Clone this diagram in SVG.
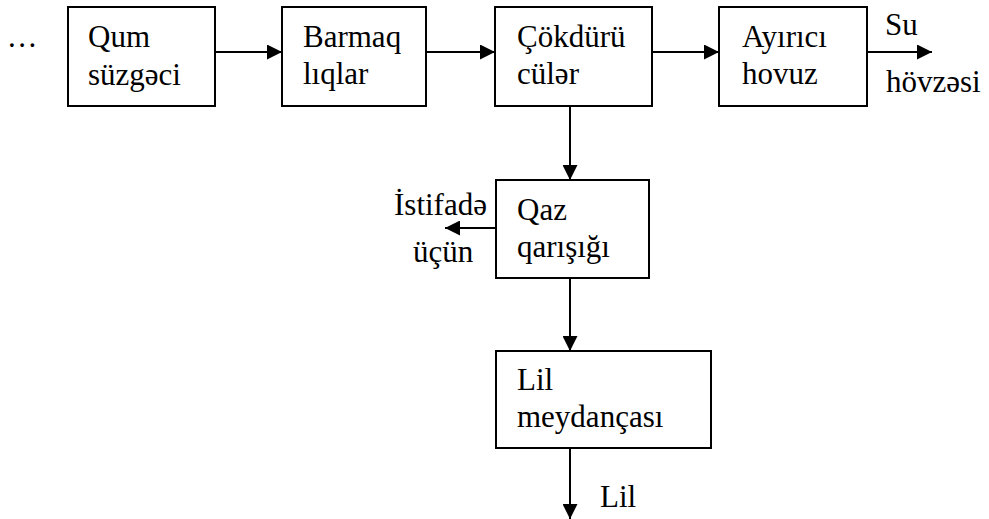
<svg xmlns="http://www.w3.org/2000/svg" width="989" height="519" viewBox="0 0 989 519">
<defs>
<style>
.box{fill:#fff;stroke:#000;stroke-width:2}
.t{font-family:"Liberation Serif","Times New Roman",serif;font-size:31px;fill:#000}
.c{stroke:#000;stroke-width:2;fill:none;marker-end:url(#ah)}
</style>
<marker id="ah" viewBox="0 0 15 15" refX="15" refY="7.5" markerWidth="15" markerHeight="15" markerUnits="userSpaceOnUse" orient="auto">
<path d="M0,0 L15,7.5 L0,15 Z" fill="#000"/>
</marker>
</defs>
<rect width="989" height="519" fill="#fff"/>
<text class="t" x="8" y="47" letter-spacing="2.5">...</text>
<g id="qum">
<rect class="box" x="68" y="7" width="147" height="99"/>
<text class="t" x="88" y="47">Qum</text>
<text class="t" x="88" y="85">süzgəci</text>
</g>
<g id="barmaq">
<rect class="box" x="282" y="7" width="144" height="99"/>
<text class="t" x="303" y="47">Barmaq</text>
<text class="t" x="303" y="84">lıqlar</text>
</g>
<g id="cokduru">
<rect class="box" x="495" y="7" width="157" height="99"/>
<text class="t" x="517" y="47">Çökdürü</text>
<text class="t" x="517" y="84">cülər</text>
</g>
<g id="ayirici">
<rect class="box" x="719" y="7" width="148" height="99"/>
<text class="t" x="742" y="47">Ayırıcı</text>
<text class="t" x="742" y="84">hovuz</text>
</g>
<g id="qaz">
<rect class="box" x="496" y="180" width="153" height="98"/>
<text class="t" x="517" y="220">Qaz</text>
<text class="t" x="517" y="257">qarışığı</text>
</g>
<g id="lil">
<rect class="box" x="496" y="351" width="215" height="97"/>
<text class="t" x="517" y="390">Lil</text>
<text class="t" x="517" y="427">meydançası</text>
</g>
<g id="connectors">
<line class="c" x1="215" y1="52" x2="282" y2="52"/>
<line class="c" x1="426" y1="52" x2="495" y2="52"/>
<line class="c" x1="652" y1="52" x2="719" y2="52"/>
<line class="c" x1="867" y1="52" x2="932" y2="52"/>
<line class="c" x1="570" y1="106" x2="570" y2="180"/>
<line class="c" x1="496" y1="228" x2="445" y2="228"/>
<line class="c" x1="570" y1="278" x2="570" y2="351"/>
<line class="c" x1="570" y1="448" x2="570" y2="519"/>
</g>
<text class="t" x="885" y="35">Su</text>
<text class="t" x="886" y="92">hövzəsi</text>
<text class="t" x="394" y="215">İstifadə</text>
<text class="t" x="413" y="262">üçün</text>
<text class="t" x="600" y="507">Lil</text>
</svg>
